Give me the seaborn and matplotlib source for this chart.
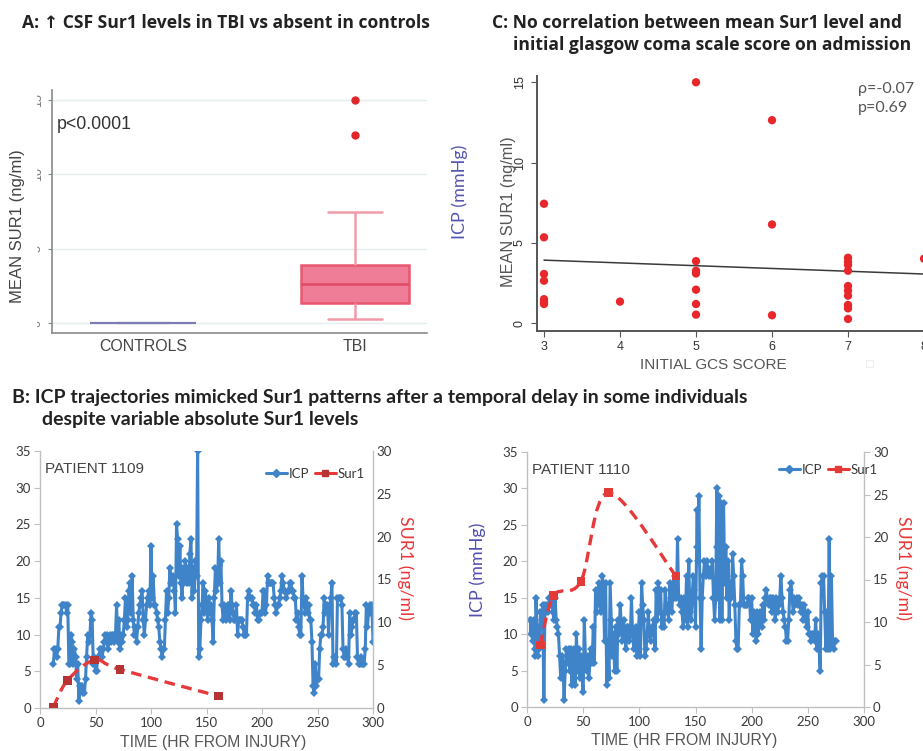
import numpy as np
import pandas as pd
import seaborn as sns
import matplotlib.pyplot as plt
from matplotlib.path import Path
from matplotlib.patches import PathPatch, Rectangle
from matplotlib.lines import Line2D

W, H = 923, 751

# --- panel A / C : mean Sur1 per TBI patient, by initial GCS
groups = ['CONTROLS', 'TBI']
controls_sur1 = [0, 0, 0, 0, 0, 0]
gcs_score = [3, 3, 3, 3, 3, 3, 3, 4, 5, 5, 5, 5, 5, 5, 5, 6, 6, 6,
             7, 7, 7, 7, 7, 7, 7, 7, 7, 7, 8]
mean_sur1 = [7.44, 5.35, 3.07, 2.65, 1.5, 1.35, 1.2, 1.35,
             15.0, 3.87, 3.27, 3.1, 2.09, 1.2, 0.54,
             12.64, 6.15, 0.5,
             4.08, 3.83, 3.63, 3.27, 2.32, 2.03, 1.72, 1.14, 0.93, 0.27,
             4.02]
fit_gcs = [3, 8.5]
fit_sur1 = [3.93, 2.98]

# --- panel B : ICP (hour, mmHg) and Sur1 samples
icp_1109 = [
    (12, 6), (13, 8), (14, 8), (15, 7), (16, 8), (17, 11), (18, 11), (19, 13), (20, 14), (21, 14),
    (22, 14), (23, 14), (24, 13), (25, 14), (26, 6), (27, 6), (28, 10), (29, 9), (30, 6), (31, 8),
    (32, 7), (33, 4), (34, 6), (35, 1), (36, 3), (37, 3), (38, 3), (39, 2), (40, 2), (41, 4),
    (42, 7), (43, 10), (44, 9), (45, 10), (46, 13), (47, 12), (48, 6), (49, 7), (50, 5), (51, 5),
    (52, 7), (53, 7), (54, 8), (55, 8), (56, 7), (57, 8), (58, 9), (59, 10), (60, 10), (61, 8),
    (62, 9), (63, 10), (64, 9), (65, 10), (66, 10), (67, 9), (68, 10), (69, 14), (70, 9), (71, 12),
    (72, 8), (73, 10), (74, 9), (75, 10), (76, 12), (77, 15), (78, 11), (79, 12), (80, 16), (81, 17),
    (82, 13), (83, 18), (84, 12), (85, 10), (86, 11), (87, 9), (88, 11), (89, 13), (90, 14), (91, 15),
    (92, 16), (93, 12), (94, 10), (95, 12), (96, 14), (97, 15), (98, 16), (99, 14), (100, 22), (101, 15),
    (102, 18), (103, 14), (104, 14), (105, 13), (106, 12), (107, 11), (108, 9), (109, 8), (110, 7), (111, 8),
    (112, 8), (113, 12), (114, 16), (115, 13), (116, 15), (117, 19), (118, 17), (119, 17), (120, 18), (121, 16),
    (122, 13), (123, 25), (124, 23), (125, 18), (126, 22), (127, 17), (128, 15), (129, 19), (130, 17), (131, 20),
    (132, 17), (133, 19), (134, 17), (135, 21), (136, 23), (137, 15), (138, 19), (139, 16), (140, 20), (141, 18),
    (142, 35), (143, 7), (144, 8), (145, 12), (146, 14), (147, 17), (148, 13), (149, 16), (150, 14), (151, 12),
    (152, 15), (153, 13), (154, 14), (155, 12), (156, 9), (157, 15), (158, 19), (159, 16), (160, 17), (161, 23),
    (162, 17), (163, 20), (164, 14), (165, 12), (166, 14), (167, 13), (168, 12), (169, 14), (170, 14), (171, 12),
    (172, 16), (173, 14), (174, 13), (175, 12), (176, 12), (177, 14), (178, 10), (179, 12), (180, 12), (181, 12),
    (182, 12), (183, 11), (184, 10), (185, 10), (186, 10), (187, 15), (188, 16), (189, 15), (190, 15), (191, 15),
    (192, 14), (193, 14), (194, 13), (195, 14), (196, 12), (197, 12), (198, 13), (199, 13), (200, 13), (201, 16),
    (202, 16), (203, 13), (204, 14), (205, 18), (206, 17), (207, 17), (208, 17), (209, 17), (210, 17), (211, 15),
    (212, 14), (213, 13), (214, 14), (215, 14), (216, 15), (217, 16), (218, 18), (219, 17), (220, 16), (221, 16),
    (222, 15), (223, 16), (224, 16), (225, 17), (226, 17), (227, 16), (228, 16), (229, 15), (230, 15), (231, 12),
    (232, 13), (233, 11), (234, 10), (235, 10), (236, 18), (237, 15), (238, 14), (239, 13), (240, 15), (241, 13),
    (242, 14), (243, 12), (244, 12), (245, 9), (246, 3), (247, 2), (248, 6), (249, 3), (250, 4), (251, 4),
    (252, 8), (253, 10), (254, 10), (255, 11), (256, 15), (257, 13), (258, 14), (259, 14), (260, 10), (261, 14),
    (262, 15), (263, 17), (264, 6), (265, 7), (266, 7), (267, 6), (268, 15), (269, 15), (270, 15), (271, 15),
    (272, 14), (273, 8), (274, 7), (275, 7), (276, 8), (277, 7), (278, 6), (279, 13), (280, 10), (281, 11),
    (282, 12), (283, 12), (284, 13), (285, 13), (286, 7), (287, 6), (288, 6), (289, 7), (290, 6), (291, 6),
    (292, 6), (293, 8), (294, 14), (295, 11), (296, 13), (297, 14), (298, 13), (299, 14), (300, 9),
]
icp_1110 = [
    (3, 12), (3.5, 10), (4, 12), (5, 9), (6, 12), (7, 8), (7.5, 7), (8, 15), (9, 10), (9.5, 7),
    (10, 11), (11, 8), (12, 13), (13, 12), (14, 14), (15, 1), (16, 14), (17, 13), (18, 14), (19, 13),
    (20, 15), (21, 14), (22, 15), (23, 13), (24, 12), (25, 15), (26, 12), (27, 11), (28, 10), (29, 7),
    (30, 4), (31, 7), (32, 6), (33, 1), (34, 5), (35, 8), (36, 6), (37, 8), (38, 5), (39, 8),
    (40, 3), (41, 7), (42, 8), (43, 3), (44, 10), (45, 5), (46, 8), (47, 4), (48, 7), (49, 4),
    (50, 2), (51, 12), (52, 7), (53, 5), (54, 7), (55, 4), (56, 6), (57, 8), (58, 6), (59, 11),
    (60, 6), (61, 16), (62, 13), (63, 16), (64, 17), (65, 14), (66, 13), (67, 18), (68, 17), (69, 9),
    (70, 17), (71, 3), (72, 9), (73, 4), (74, 17), (75, 12), (76, 7), (77, 10), (78, 5), (79, 11),
    (80, 5), (81, 12), (82, 10), (83, 14), (84, 11), (85, 9), (86, 12), (87, 10), (88, 8), (89, 11),
    (90, 11), (91, 9), (92, 10), (93, 15), (94, 10), (95, 8), (96, 10), (97, 11), (98, 7), (99, 10),
    (100, 13), (101, 7), (102, 17), (103, 14), (104, 12), (105, 7), (106, 8), (107, 10), (108, 13), (109, 10),
    (110, 9), (111, 11), (112, 10), (113, 12), (114, 8), (115, 16), (116, 12), (117, 17), (118, 13), (119, 16),
    (120, 11), (121, 12), (122, 11), (123, 16), (124, 13), (125, 14), (126, 12), (127, 17), (128, 15), (129, 13),
    (130, 17), (131, 15), (132, 18), (133, 15), (134, 23), (135, 15), (136, 14), (137, 15), (138, 13), (139, 11),
    (140, 15), (141, 12), (142, 18), (143, 11), (144, 20), (145, 13), (146, 12), (147, 15), (148, 18), (149, 16),
    (150, 11), (151, 22), (151.5, 27), (152, 20), (153, 29), (154, 15), (155, 8), (156, 15), (157, 18), (158, 20),
    (159, 18), (160, 20), (161, 19), (162, 18), (163, 19), (164, 18), (165, 20), (166, 15), (167, 12), (168, 15),
    (169, 30), (169.5, 22), (170, 15), (171, 29), (171.5, 12), (172, 25), (173, 28), (173.5, 12), (174, 22), (175, 28),
    (176, 17), (177, 22), (178, 15), (179, 20), (180, 12), (181, 17), (182, 15), (183, 21), (184, 18), (185, 14),
    (186, 9), (187, 8), (188, 8), (189, 14), (190, 14), (191, 20), (192, 18), (193, 14), (194, 14), (195, 14),
    (196, 14), (197, 15), (198, 15), (199, 12), (200, 15), (201, 10), (202, 13), (203, 12), (204, 9), (205, 13),
    (206, 10), (207, 13), (208, 12), (209, 11), (210, 14), (211, 12), (212, 15), (213, 16), (214, 15), (215, 14),
    (216, 15), (217, 15), (218, 13), (219, 15), (220, 14), (221, 12), (222, 15), (223, 13), (224, 14), (225, 15),
    (226, 18), (227, 15), (228, 13), (229, 12), (230, 11), (231, 9), (232, 9), (233, 12), (234, 16), (235, 17),
    (236, 15), (237, 13), (238, 15), (239, 14), (240, 15), (241, 14), (242, 15), (243, 14), (244, 13), (245, 14),
    (246, 12), (247, 14), (248, 12), (249, 11), (250, 13), (251, 10), (252, 10), (253, 9), (254, 10), (255, 10),
    (256, 9), (257, 12), (258, 8), (259, 10), (260, 8), (261, 5), (262, 17), (263, 18), (264, 18), (265, 13),
    (266, 8), (267, 13), (268, 8), (269, 23), (270, 8), (271, 18), (272, 9), (273, 8), (274, 9), (275, 9),
]
sur1_1109_hours = [12, 24.6, 49, 72, 160.5]
sur1_1109 = [0.1, 3.2, 5.6, 4.5, 1.4]
sur1_1110_hours = [11.8, 23.7, 48, 72.5, 132.7]
sur1_1110 = [7.3, 13.1, 14.8, 25.2, 15.4]

sns.set_style('white')
plt.rcParams['font.family'] = ['Lato', 'DejaVu Sans']

ARIAL = ['Liberation Sans', 'DejaVu Sans']
ICP_BLUE = '#3f84c8'
SUR_RED = '#e8393a'
AXGREY = '#c0c0c0'
TXT = '#3a3a3a'

fig = plt.figure(figsize=(W / 100, H / 100), dpi=100)


def box(px0, py0, px1, py1):
    # pixel box (left, top, right, bottom) -> figure fraction rect
    return [px0 / W, 1 - py1 / H, (px1 - px0) / W, (py1 - py0) / H]


def smooth(xs, ys):
    # Excel style smoothed line: Catmull-Rom through the points, as Bezier
    p = np.column_stack([xs, ys]).astype(float)
    q = np.vstack([p[0], p, p[-1]])
    verts, codes = [p[0]], [Path.MOVETO]
    for i in range(1, len(q) - 2):
        c1 = q[i] + (q[i + 1] - q[i - 1]) / 6
        c2 = q[i + 1] - (q[i + 2] - q[i]) / 6
        verts += [c1, c2, q[i + 1]]
        codes += [Path.CURVE4] * 3
    return Path(verts, codes)


# ---------------- A: boxplot
axA = fig.add_axes(box(52, 90, 427, 333))
sns.boxplot(x=['CONTROLS'] * len(controls_sur1), y=controls_sur1, order=groups,
            color='#7b7bb5', linecolor='#7b7bb5', width=0.5, linewidth=1.5,
            saturation=1, ax=axA)
sns.boxplot(x=['TBI'] * len(mean_sur1), y=mean_sur1, order=groups,
            color='#f07d97', linecolor='#e8566f', width=0.51, linewidth=1.8,
            saturation=1, fliersize=5,
            flierprops=dict(marker='o', markerfacecolor='#e0262a', markeredgecolor='#e0262a'),
            whiskerprops=dict(color='#f39aa9'), capprops=dict(color='#f39aa9'),
            medianprops=dict(color='#e04a66'), ax=axA)
axA.set_xlim(-0.43, 1.34)
axA.set_ylim(-0.67, 15.67)
axA.set_yticks([0, 5, 10, 15])
axA.yaxis.grid(True, color='#e4eeee', lw=1)
for s in ['top', 'right']:
    axA.spines[s].set_visible(False)
for s in ['left', 'bottom']:
    axA.spines[s].set_color('#8a8a8a')
    axA.spines[s].set_linewidth(1.2)
axA.tick_params(axis='x', length=0, pad=4, labelsize=11.4, labelcolor='#444')
axA.tick_params(axis='y', length=3, color='#8a8a8a', pad=3, labelsize=9,
                labelcolor='#777', labelrotation=90, left=True)
for t in axA.get_xticklabels():
    t.set_family(ARIAL)
for t in axA.get_yticklabels():
    t.set_family(ARIAL)
    t.set_va('center')
axA.set_xlabel('')
axA.set_ylabel('MEAN SUR1 (ng/ml)', family=ARIAL, fontsize=12, color='#444', va='center')
axA.yaxis.set_label_coords((18 - 52) / 375, (333 - 226) / 243)
axA.text(0.013, 0.856, 'p<0.0001', transform=axA.transAxes, family=ARIAL,
         fontsize=12.8, color='#333', va='center', ha='left')
# the tick numbers of panel A are cut off in the original
fig.patches.append(Rectangle((27 / W, 1 - 335 / H), 9 / W, 250 / H,
                             transform=fig.transFigure, color='white', zorder=10))

# ---------------- C: scatter vs GCS
axC = fig.add_axes(box(537, 76, 945, 331))
sns.scatterplot(x=gcs_score, y=mean_sur1, color='#e8272b', s=36,
                edgecolor='none', ax=axC, zorder=3)
sns.lineplot(x=fit_gcs, y=fit_sur1, color='#3a3a3a', lw=1.1, ax=axC)
axC.set_xlim(2.908, 8.276)
axC.set_ylim(-0.48, 15.39)
axC.set_xticks([3, 4, 5, 6, 7, 8])
axC.set_yticks([0, 5, 10, 15])
for s in ['top', 'right']:
    axC.spines[s].set_visible(False)
for s in ['left', 'bottom']:
    axC.spines[s].set_color('#555')
    axC.spines[s].set_linewidth(1.4)
axC.tick_params(axis='both', length=4, color='#555', labelsize=9, labelcolor='#333',
                left=True, bottom=True)
axC.tick_params(axis='y', pad=4, labelrotation=90)
axC.tick_params(axis='x', pad=3)
for t in axC.get_yticklabels():
    t.set_va('center')
for t in axC.get_xticklabels() + axC.get_yticklabels():
    t.set_family(ARIAL)
axC.set_xlabel('INITIAL GCS SCORE', family=ARIAL, fontsize=11, color='#555', va='center')
axC.xaxis.set_label_coords((713 - 537) / 408, (331 - 365) / 255)
axC.set_ylabel('MEAN SUR1 (ng/ml)', family=ARIAL, fontsize=11.7, color='#555', va='center')
axC.yaxis.set_label_coords((508 - 537) / 408, (331 - 212) / 255)
axC.text(0.787, 0.949, '\u03c1=-0.07', transform=axC.transAxes, fontsize=11.5,
         color='#555', va='center')
axC.text(0.787, 0.875, 'p=0.69', transform=axC.transAxes, fontsize=11.5,
         color='#555', va='center')
fig.patches.append(Rectangle((866 / W, 1 - 367 / H), 7 / W, 7 / H, transform=fig.transFigure,
                             fill=False, edgecolor='#eeeeee', lw=0.8, zorder=10))
fig.text(460 / W, 1 - 192 / H, 'ICP (mmHg)', rotation=90, ha='center', va='center',
         fontsize=13, color='#5656b0')


# ---------------- B: ICP vs Sur1 time courses
def patient(rect, icp, sur_h, sur_v, name, mark_col, leg_xy, xlab_x, sur_lab_x,
            right_tick, ylab=True):
    ax = fig.add_axes(rect)
    df = pd.DataFrame(icp, columns=['hour', 'icp'])
    sns.lineplot(data=df, x='hour', y='icp', estimator=None, sort=False, color=ICP_BLUE,
                 lw=2.2, marker='D', markersize=3.6, markeredgecolor=ICP_BLUE,
                 markeredgewidth=0, ax=ax)
    ax.set_xlim(0, 300)
    ax.set_ylim(0, 35)
    ax.set_xticks(range(0, 301, 50))
    ax.set_yticks(range(0, 36, 5))
    ax2 = ax.twinx()
    ax2.add_patch(PathPatch(smooth(sur_h, sur_v), fill=False, edgecolor=SUR_RED, lw=2.4,
                            linestyle=(0, (3.2, 2.0)), transform=ax2.transData))
    sns.scatterplot(x=sur_h, y=sur_v, marker='s', s=40, color=mark_col,
                    edgecolor='none', ax=ax2, zorder=4)
    ax2.set_ylim(0, 30)
    ax2.set_yticks(range(0, 31, 5))
    for a in (ax, ax2):
        for s in a.spines.values():
            s.set_color(AXGREY)
            s.set_linewidth(1)
        a.spines['top'].set_visible(False)
    ax.spines['right'].set_visible(False)
    ax2.spines['left'].set_visible(False)
    ax2.spines['bottom'].set_visible(False)
    ax.tick_params(axis='both', length=4, color=AXGREY, labelsize=9.5, labelcolor=TXT,
                   left=True, bottom=True, pad=2.5)
    ax2.tick_params(axis='y', length=right_tick, color=AXGREY, labelsize=9.5,
                    labelcolor=TXT, right=True, pad=2.5)
    ax.set_xlabel('TIME (HR FROM INJURY)', family=ARIAL, fontsize=11.3, color='#555',
                  va='center')
    ax.xaxis.set_label_coords(xlab_x, -(742 - 708) / 257)
    if ylab:
        ax.set_ylabel('ICP (mmHg)', fontsize=13, color='#5050b0', va='center')
        ax.yaxis.set_label_coords(-(527 - 478) / 337, (707 - 570) / 255)
    else:
        ax.set_ylabel('')
    ax2.set_ylabel('SUR1 (ng/ml)', fontsize=12.8, color=SUR_RED, rotation=-90, va='center')
    ax2.yaxis.set_label_coords(sur_lab_x, (707 - 568) / 255)
    ax.text(0.015, 0.93, name, transform=ax.transAxes, family=ARIAL, fontsize=11,
            color='#444', va='center')
    handles = [Line2D([], [], color=ICP_BLUE, lw=2.2, marker='D', markersize=4),
               Line2D([], [], color=SUR_RED, lw=2.2, marker='s', markersize=5,
                      markerfacecolor=mark_col, markeredgecolor=mark_col)]
    leg = ax2.legend(handles, ['ICP', 'Sur1'], ncol=2, loc='center right',
                     bbox_to_anchor=leg_xy, frameon=False, fontsize=9.5,
                     handlelength=1.6, handletextpad=0.15, columnspacing=0.4,
                     borderaxespad=0, borderpad=0)
    for t in leg.get_texts():
        t.set_color(TXT)
    return ax, ax2


patient(box(40, 451, 373, 708), icp_1109, sur1_1109_hours, sur1_1109, 'PATIENT 1109',
        '#b83434', ((365 - 40) / 333, (708 - 474) / 257), (213 - 40) / 333,
        1 + (405 - 373) / 333, 0, ylab=False)
patient(box(527, 452, 864, 707), icp_1110, sur1_1110_hours, sur1_1110, 'PATIENT 1110',
        '#e23a36', ((878 - 527) / 337, (707 - 470) / 255), (684 - 527) / 337,
        1 + (903 - 864) / 337, 4, ylab=True)

# ---------------- titles
title_kw = dict(fontsize=12.6, fontweight='bold', color='#222', va='center', ha='left',
                family=['Open Sans', 'DejaVu Sans'])
fig.text(22 / W, 1 - 23 / H, 'A: \u2191 CSF Sur1 levels in TBI vs absent in controls', **title_kw)
fig.text(492 / W, 1 - 23 / H, 'C: No correlation between mean Sur1 level and', **title_kw)
fig.text(513 / W, 1 - 45 / H, 'initial glasgow coma scale score on admission', **title_kw)
b_kw = dict(fontsize=14, fontweight='bold', color='#222', va='center', ha='left')
fig.text(12 / W, 1 - 397 / H,
         'B: ICP trajectories mimicked Sur1 patterns after a temporal delay in some individuals',
         **b_kw)
fig.text(42 / W, 1 - 420 / H, 'despite variable absolute Sur1 levels', **b_kw)

fig.savefig('out.png', dpi=100)
